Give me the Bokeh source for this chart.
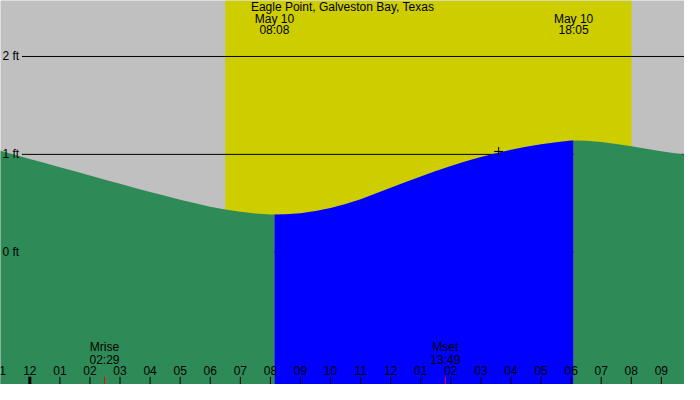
from bokeh.plotting import figure
from bokeh.models import Range1d
from bokeh.embed import file_html
from bokeh.resources import INLINE
from bokeh.core.properties import value

# ---- data (hours since midnight May 10, heights in ft) ----
hours = [-1, -0.5, 0, 0.5, 1, 1.5, 2, 2.5, 3, 3.5, 4, 4.5, 5, 5.5, 6, 6.5, 7, 7.5, 8, 8.133,
         8.5, 9, 9.5, 10, 10.5, 11, 11.5, 12, 12.5, 13, 13.5, 14, 14.5, 15, 15.5, 16, 16.5, 17, 17.5, 18, 18.083,
         18.5, 19, 19.5, 20, 20.5, 21, 21.5, 22]
heights = [1.037, 0.996, 0.954, 0.912, 0.869, 0.827, 0.784, 0.742, 0.700, 0.658, 0.617, 0.577, 0.538, 0.500,
           0.466, 0.437, 0.413, 0.397, 0.387, 0.386,
           0.388, 0.399, 0.421, 0.453, 0.494, 0.543, 0.600, 0.659, 0.718, 0.775, 0.830, 0.882, 0.930, 0.973,
           1.012, 1.047, 1.077, 1.103, 1.124, 1.141, 1.143,
           1.139, 1.127, 1.107, 1.083, 1.058, 1.033, 1.010, 0.987]

low_time, low_label = 8.133, "08:08"
high_time, high_label = 18.083, "18:05"
event_date = "May 10"
sunrise, sunset = 6.498, 20.01
moonrise, moonrise_label = 2.483, "02:29"
moonset, moonset_label = 13.817, "13:49"
now_time, now_height = 15.59, 1.03

grid_levels = [0, 1, 2]
grid_labels = ["0 ft", "1 ft", "2 ft"]

tick_hours = list(range(-1, 22))
tick_labels = ["11", "12", "01", "02", "03", "04", "05", "06", "07", "08", "09", "10", "11",
               "12", "01", "02", "03", "04", "05", "06", "07", "08", "09"]

title = "Eagle Point, Galveston Bay, Texas"

# ---- figure ----
x0, x1 = -0.9747, 21.77
y0, y1 = -1.35, 2.5716
font = value("Liberation Sans")

p = figure(width=684, height=384, x_range=Range1d(x0, x1), y_range=Range1d(y0, y1),
           min_border=0, toolbar_location=None, output_backend="svg")
p.axis.visible = False
p.grid.visible = False
p.outline_line_color = None
p.background_fill_color = "#C0C0C0"
p.border_fill_color = "#C0C0C0"

# daylight
p.quad(left=[sunrise], right=[sunset], bottom=[y0], top=[y1], fill_color="#CDCD00", line_color=None)

# grid lines
p.segment(x0=[-0.26] * len(grid_levels), x1=[x1] * len(grid_levels), y0=grid_levels, y1=grid_levels,
          line_color="black", line_width=1)

# tide fill: ebb (green) and flood (blue)
ebb1 = [(h, v) for h, v in zip(hours, heights) if h <= low_time]
flood = [(h, v) for h, v in zip(hours, heights) if low_time <= h <= high_time]
ebb2 = [(h, v) for h, v in zip(hours, heights) if h >= high_time]
for seg, col in [(ebb1, "#2E8B57"), (flood, "#0000FF"), (ebb2, "#2E8B57")]:
    xs = [a for a, b in seg]
    ys = [b for a, b in seg]
    p.varea(x=xs, y1=[y0] * len(xs), y2=ys, fill_color=col)

# grid labels
p.text(x=[x0 + 0.065] * len(grid_levels), y=grid_levels, text=grid_labels, text_font=font,
       text_font_size="12px", text_baseline="middle", text_align="left", text_color="black")

# now marker
p.scatter(x=[now_time], y=[now_height], marker="cross", size=9, line_color="black", line_width=1)

# title and events
p.text(x=[(x0 + x1) / 2], y=[2.503], text=[title], text_font=font, text_font_size="12px",
       text_align="center", text_baseline="middle", text_color="black")
p.text(x=[low_time, high_time], y=[2.385, 2.385], text=[event_date, event_date], text_font=font,
       text_font_size="12px", text_align="center", text_baseline="middle", text_color="black")
p.text(x=[low_time, high_time], y=[2.268, 2.268], text=[low_label, high_label], text_font=font,
       text_font_size="12px", text_align="center", text_baseline="middle", text_color="black")

# moon events
p.text(x=[moonrise, moonset], y=[-0.968, -0.968], text=["Mrise", "Mset"], text_font=font,
       text_font_size="12px", text_align="center", text_baseline="middle", text_color="black")
p.text(x=[moonrise, moonset], y=[-1.095, -1.095], text=[moonrise_label, moonset_label], text_font=font,
       text_font_size="12px", text_align="center", text_baseline="middle", text_color="black")

# hour ticks
tick_top = -1.272
p.segment(x0=tick_hours, x1=tick_hours, y0=[y0] * len(tick_hours), y1=[tick_top] * len(tick_hours),
          line_color="black", line_width=1)
p.segment(x0=[0], x1=[0], y0=[y0], y1=[tick_top], line_color="black", line_width=3)
p.segment(x0=[moonrise, moonset], x1=[moonrise, moonset], y0=[y0, y0], y1=[tick_top, tick_top],
          line_color="red", line_width=1)
p.text(x=tick_hours, y=[-1.208] * len(tick_hours), text=tick_labels, text_font=font,
       text_font_size="12px", text_align="center", text_baseline="middle", text_color="black")

open("out.html", "w").write(file_html(p, INLINE))
